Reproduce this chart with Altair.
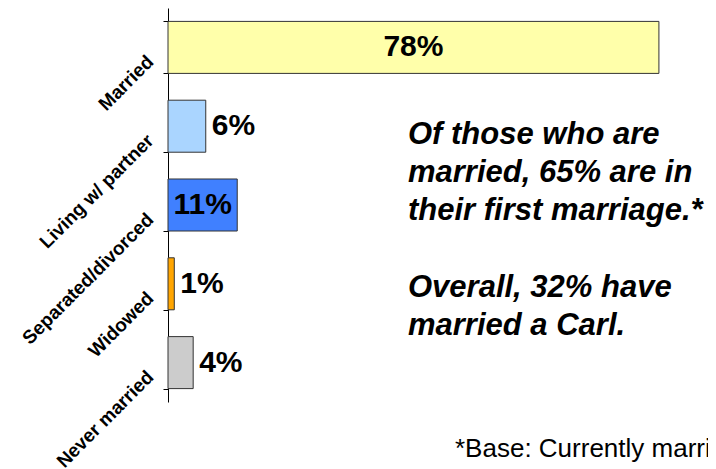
import altair as alt
import pandas as pd

categories = ["Married", "Living w/ partner", "Separated/divorced", "Widowed", "Never married"]
values = [78, 6, 11, 1, 4]
colors = ["#FFFFAA", "#AAD5FF", "#4080FF", "#FFA500", "#CCCCCC"]
inside = [True, False, True, False, False]

annotation_para1 = ["Of those who are", "married, 65% are in", "their first marriage.*"]
annotation_para2 = ["Overall, 32% have", "married a Carl."]
footnote = "*Base: Currently married"

df = pd.DataFrame({"category": categories, "value": values, "inside": inside})
df["label"] = [f"{v}%" for v in values]

FONT = "Liberation Sans"

y = alt.Y(
    "category:N",
    sort=categories,
    scale=alt.Scale(paddingInner=0.34, paddingOuter=0.17),
    axis=alt.Axis(
        title=None,
        labelAngle=315,
        labelAlign="right",
        labelBaseline="middle",
        labelFont=FONT,
        labelFontWeight="bold",
        labelFontSize=19,
        labelColor="black",
        labelOffset=11,
        labelPadding=13,
        tickBand="extent",
        tickColor="black",
        tickSize=5,
        domainColor="black",
        grid=False,
    ),
)
xscale = alt.Scale(domain=[0, 85.8], nice=False)

base = alt.Chart(df)

bars = base.mark_bar(stroke="#333333", strokeWidth=1).encode(
    x=alt.X("value:Q", scale=xscale, axis=None),
    y=y,
    color=alt.Color("category:N", scale=alt.Scale(domain=categories, range=colors), legend=None),
)

inside_labels = base.transform_filter("datum.inside").transform_calculate(
    mid="datum.value / 2"
).mark_text(font=FONT, fontWeight="bold", fontSize=30, align="center", baseline="middle", color="black").encode(
    x=alt.X("mid:Q", scale=xscale, axis=None),
    y=y,
    text="label:N",
)

outside_labels = base.transform_filter("!datum.inside").mark_text(
    font=FONT, fontWeight="bold", fontSize=30, align="left", baseline="middle", dx=6, color="black"
).encode(
    x=alt.X("value:Q", scale=xscale, axis=None),
    y=y,
    text="label:N",
)

note_df = pd.DataFrame({"k": [0]})
note_style = dict(font=FONT, fontWeight="bold", fontStyle="italic", fontSize=31, align="left",
                  baseline="alphabetic", lineHeight=38, color="black")
para1 = alt.Chart(note_df).mark_text(text=annotation_para1, **note_style).encode(
    x=alt.value(240), y=alt.value(136)
)
para2 = alt.Chart(note_df).mark_text(text=annotation_para2, **note_style).encode(
    x=alt.value(240), y=alt.value(289)
)

foot = alt.Chart(note_df).mark_text(
    font=FONT, fontSize=26, align="left", baseline="alphabetic", color="black", text=footnote,
).encode(x=alt.value(287), y=alt.value(449))

chart = alt.layer(bars, inside_labels, outside_labels, para1, para2, foot).properties(
    width=540,
    height=394,
    padding={"left": 160, "top": 0, "right": 0, "bottom": 67},
    autosize=alt.AutoSizeParams(type="none"),
    background="white",
).configure_view(stroke=None)

chart.save("out.html", embed_options={"renderer": "svg", "actions": False})
